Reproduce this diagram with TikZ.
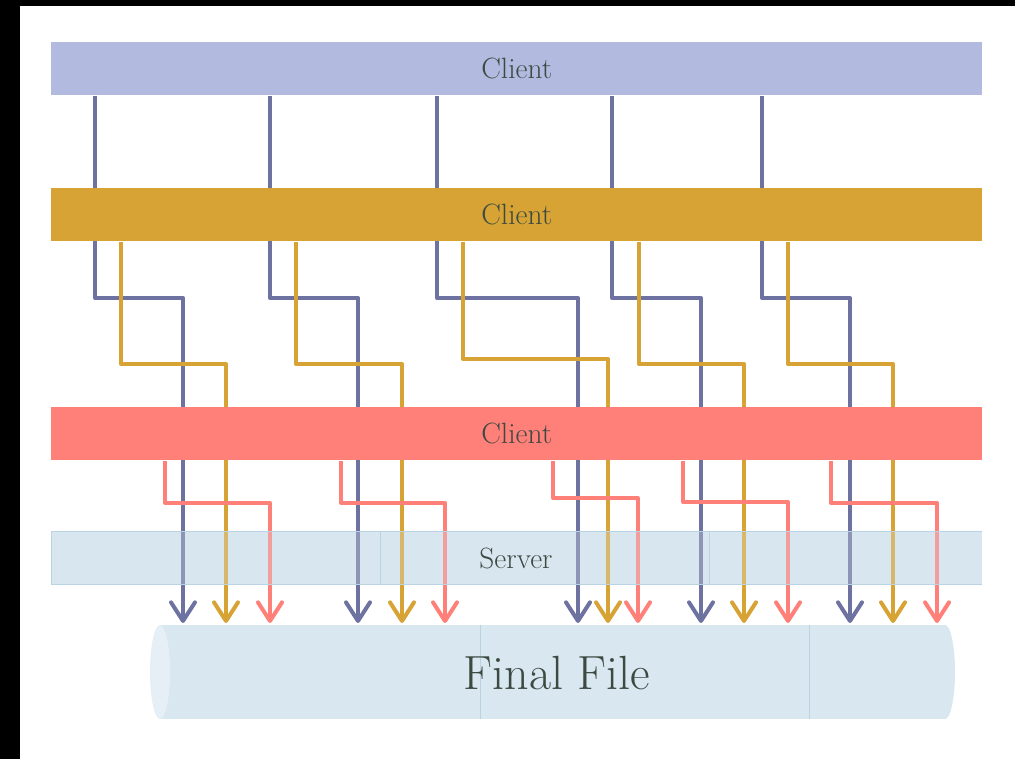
\documentclass[tikz,border=0pt]{standalone}
\usetikzlibrary{arrows.meta}
\definecolor{barA}{HTML}{B2BAE0}
\definecolor{barB}{HTML}{D6A334}
\definecolor{barC}{HTML}{FF7F79}
\definecolor{lineA}{HTML}{6E72A0}
\definecolor{srv}{HTML}{D7E6EF}
\definecolor{srvedge}{HTML}{B9D3E2}
\definecolor{cyl}{HTML}{D8E7F0}
\definecolor{cylface}{HTML}{E7EFF6}
\definecolor{txt}{HTML}{3D4A42}
\tikzset{
  bar/.style={minimum width=931*0.75pt, minimum height=53*0.75pt, inner sep=0pt, text=txt, font=\fontsize{22}{24}\selectfont},
  flow/.style={line width=3pt, line join=round, -{Straight Barb[length=14pt,width=18pt,round]}},
}
\begin{document}
\begin{tikzpicture}[x=0.75pt,y=-0.75pt]
\useasboundingbox (0,0) rectangle (1015,759);
\fill[white] (0,0) rectangle (1015,759);
\fill[black] (0,0) rectangle (1015,6);
\fill[black] (0,0) rectangle (20,759);
% final file cylinder
\fill[cyl] (160,625) rectangle (945,719);
\fill[cyl] (945,672) ellipse [x radius=10, y radius=47];
\fill[cylface] (160,672) ellipse [x radius=10, y radius=47];
\draw[srvedge, line width=0.5pt] (480,625) -- (480,719) (809,625) -- (809,719);
\node[text=txt, font=\fontsize{36}{40}\selectfont] (file) at (557,673) {Final File};
% server background
\fill[srv] (51,531) rectangle (982,584);
% bars
\node[bar, fill=barA, anchor=north west] (cA) at (51,42) {};
\node[bar, fill=barB, anchor=north west] (cB) at (51,188) {};
\node[bar, fill=barC, anchor=north west] (cC) at (51,407) {};
% flows
\foreach \s/\t/\e in {95/298/183, 270/298/358, 437/298/578, 612/298/701, 762/298/850}
  \draw[flow, lineA] ([xshift=\s*0.75pt-51*0.75pt]cA.south west) |- (\e,\t) -- (\e,623);
\foreach \s/\t/\e in {121/364/226, 296/364/402, 463/359/608, 639/364/744, 788/364/893}
  \draw[flow, barB] ([xshift=\s*0.75pt-51*0.75pt]cB.south west) |- (\e,\t) -- (\e,623);
\foreach \s/\t/\e in {165/503/270, 341/503/445, 553/498/638, 683/502/788, 831/503/937}
  \draw[flow, barC] ([xshift=\s*0.75pt-51*0.75pt]cC.south west) |- (\e,\t) -- (\e,623);
% redraw bars on top
\node[bar, fill=barA, anchor=north west] at (51,42) {Client};
\node[bar, fill=barB, anchor=north west] at (51,188) {Client};
\node[bar, fill=barC, anchor=north west] at (51,407) {Client};
% server overlay
\fill[srv, fill opacity=0.3] (51,531) rectangle (982,584);
\draw[srvedge, line width=0.6pt] (982,531) -- (51,531) -- (51,584) -- (982,584);
\draw[srvedge, line width=0.5pt] (380,531) -- (380,584) (709,531) -- (709,584);
\node[text=txt, font=\fontsize{22}{24}\selectfont] (srvn) at (516,558) {Server};
\end{tikzpicture}
\end{document}
